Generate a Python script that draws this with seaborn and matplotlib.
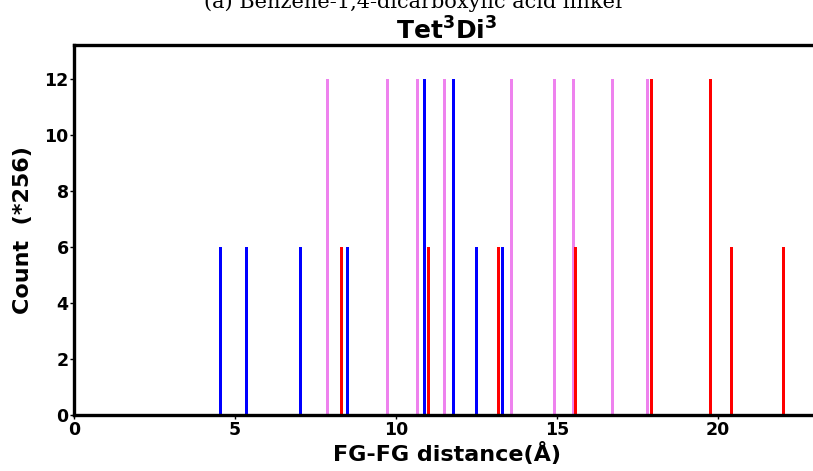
import matplotlib
matplotlib.use("Agg")
import matplotlib.pyplot as plt
import seaborn as sns
import pandas as pd

# Data (distance in Å, count in units of 256)
blue_x = [4.56, 5.36, 7.03, 8.49, 10.88, 11.78, 12.51, 13.31]
blue_y = [6, 6, 6, 6, 12, 12, 6, 6]
red_x = [8.30, 11.02, 13.18, 15.59, 17.93, 19.77, 20.44, 22.04]
red_y = [6, 6, 6, 6, 12, 12, 6, 6]
violet_x = [7.87, 9.73, 10.68, 11.50, 13.60, 14.94, 15.51, 16.72, 17.83]
violet_y = [12, 12, 12, 12, 12, 12, 12, 12, 12]

sns.set_theme(style="white")
plt.rcParams['font.family'] = ['DejaVu Sans']
plt.rcParams['mathtext.fontset'] = 'dejavusans'
plt.rcParams['text.color'] = 'black'
plt.rcParams['axes.labelcolor'] = 'black'
plt.rcParams['xtick.color'] = 'black'
plt.rcParams['ytick.color'] = 'black'

fig = plt.figure(figsize=(8.13, 4.71), dpi=100)
ax = fig.add_axes([74.2 / 813, 55.7 / 471, (820 - 74.2) / 813, (415.3 - 45) / 471])

w = 0.09
for xs, ys, col in [(violet_x, violet_y, 'violet'), (blue_x, blue_y, 'blue'), (red_x, red_y, 'red')]:
    ax.bar(xs, ys, width=w, color=col, linewidth=0, align='center')

ax.set_xlim(0, 23.18)
ax.set_ylim(0, 13.22)
ax.set_xticks([0, 5, 10, 15, 20])
ax.set_yticks([0, 2, 4, 6, 8, 10, 12])
for s in ['top', 'bottom', 'left']:
    ax.spines[s].set_linewidth(2.4)
    ax.spines[s].set_color('black')
ax.spines['right'].set_visible(False)
ax.tick_params(axis='both', which='major', direction='out', length=3, width=1,
               color='black', labelcolor='black', labelsize=12.5, pad=1,
               bottom=True, left=True)
for lab in ax.get_xticklabels() + ax.get_yticklabels():
    lab.set_fontweight('bold')

ax.set_xlabel('FG-FG distance(Å)', fontsize=16, fontweight='bold', labelpad=2, color='black')
ax.set_ylabel('Count  (*256)', fontsize=16, fontweight='bold', labelpad=8, color='black')
ax.set_title(r'Tet$^{\mathbf{3}}$Di$^{\mathbf{3}}$', fontsize=18, fontweight='bold', pad=4, color='black')

fig.text(0.51, 1 - 8 / 471, '(a) Benzene-1,4-dicarboxylic acid linker',
         family='DejaVu Serif', fontsize=15, ha='center', va='baseline', color='black')

fig.savefig('out.png', dpi=100)
